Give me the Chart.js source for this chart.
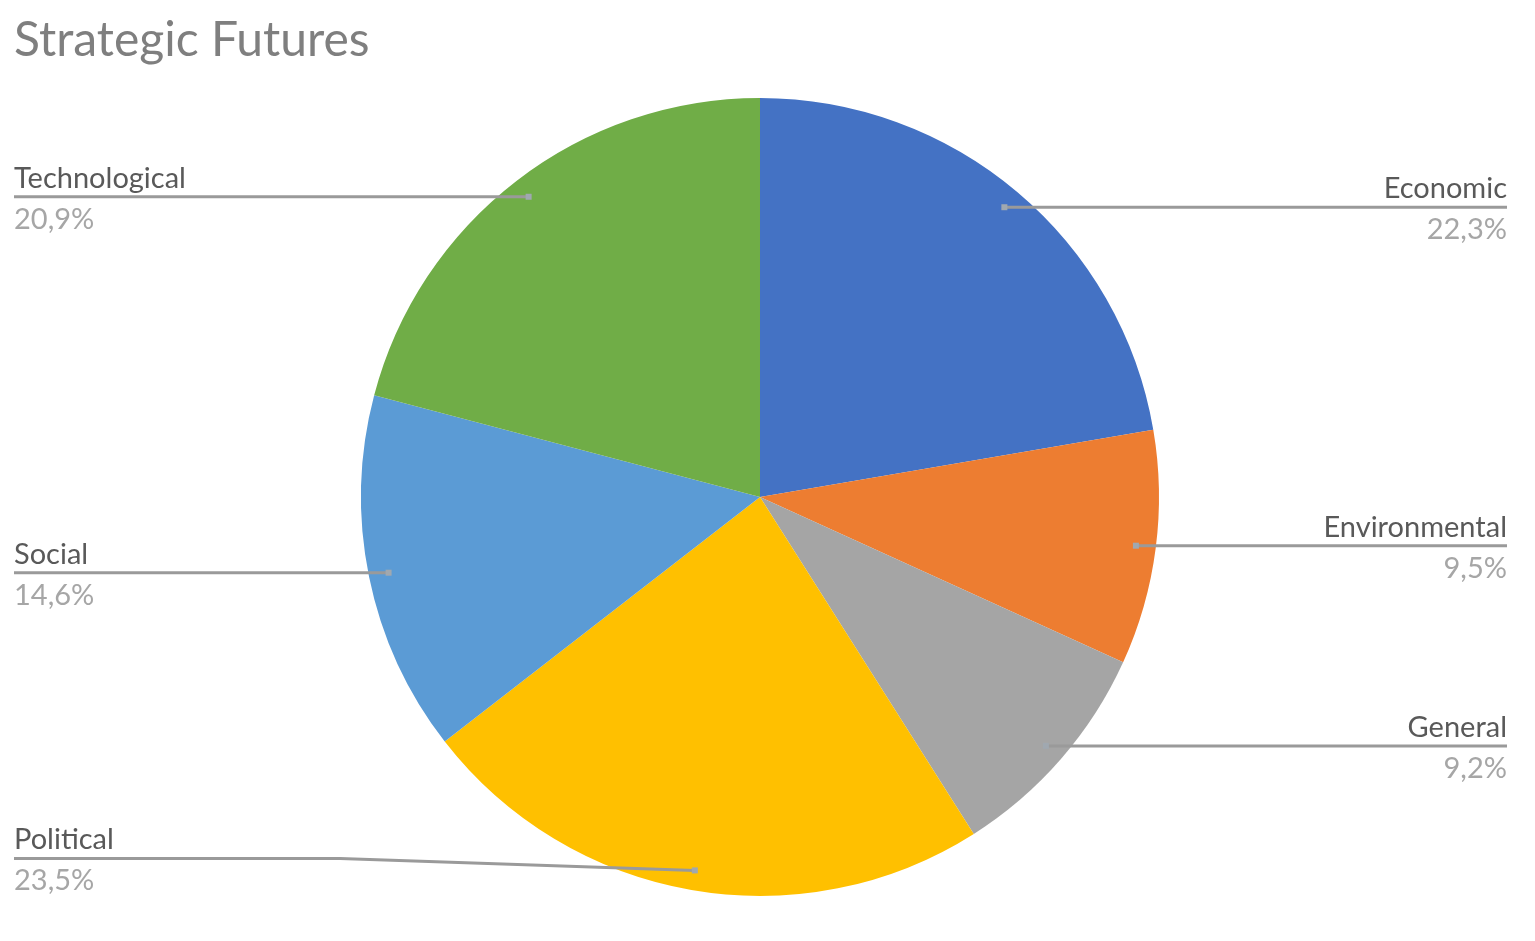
<!DOCTYPE html>
<html>
<head>
<meta charset="utf-8">
<script src="https://cdn.jsdelivr.net/npm/chart.js@4.4.1/dist/chart.umd.min.js"></script>
<style>
  html, body { margin: 0; padding: 0; background: #ffffff; }
  #wrap { width: 1535px; height: 941px; }
</style>
</head>
<body>
<div id="wrap"><canvas id="grafico_pizza"></canvas></div>
<script>
const categorias = ['Economic', 'Environmental', 'General', 'Political', 'Social', 'Technological']
const percentuais = [22.3, 9.5, 9.2, 23.5, 14.6, 20.9]
const cores = ['#4472C4', '#ED7D31', '#A5A5A5', '#FFC000', '#5B9BD5', '#70AD47']

const fonte = 'Lato, "Open Sans", sans-serif'

// desenha os rotulos com linhas de chamada, no estilo do Excel
const rotulosPlugin = {
    id: 'rotulos',
    afterDatasetsDraw(chart, args, opts) {
        const ctx = chart.ctx
        const meta = chart.getDatasetMeta(0)
        const esq = opts.left
        const dir = chart.width - opts.right
        ctx.save()
        meta.data.forEach((arc, i) => {
            const p = arc.getProps(['x', 'y', 'startAngle', 'endAngle', 'outerRadius'], true)
            const meio = (p.startAngle + p.endAngle) / 2
            const ax = p.x + Math.cos(meio) * p.outerRadius * 0.95
            const ay = p.y + Math.sin(meio) * p.outerRadius * 0.95
            const direita = Math.cos(meio) >= 0
            const desloc = opts.shift[categorias[i]] || 0
            const ly = ay + desloc
            const bordaX = direita ? dir : esq

            ctx.strokeStyle = '#9a9a9a'
            ctx.lineWidth = 3
            ctx.beginPath()
            ctx.moveTo(ax, ay)
            if (desloc !== 0) {
                const dobra = direita ? p.x + 300 : opts.bend
                ctx.lineTo(dobra, ly)
            }
            ctx.lineTo(bordaX, ly)
            ctx.stroke()

            ctx.fillStyle = '#a0a8b0'
            ctx.fillRect(ax - 3, ay - 3, 6, 6)

            ctx.textAlign = direita ? 'right' : 'left'
            ctx.font = '29px ' + fonte
            ctx.fillStyle = '#595959'
            ctx.textBaseline = 'alphabetic'
            ctx.fillText(categorias[i], bordaX, ly - 9)
            ctx.fillStyle = '#a6a6a6'
            ctx.textBaseline = 'top'
            const txt = percentuais[i].toFixed(1).replace('.', ',') + '%'
            ctx.fillText(txt, bordaX, ly + 8)
        })
        ctx.restore()
    }
}

const ctx_pizza = document.getElementById('grafico_pizza').getContext('2d')

let grafico_pizza = new Chart(ctx_pizza, {
    type: 'pie',
    data: {
        labels: categorias,
        datasets: [{
            data: percentuais,
            backgroundColor: cores,
            borderWidth: 0
        }]
    },
    options: {
        responsive: true,
        maintainAspectRatio: false,
        animation: false,
        layout: {
            padding: { top: 0, bottom: 45, left: 14, right: 29 }
        },
        plugins: {
            legend: { display: false },
            tooltip: { enabled: false },
            title: {
                display: true,
                text: 'Strategic Futures',
                align: 'start',
                color: '#7f7f7f',
                font: { family: fonte, size: 48, weight: 'normal', lineHeight: 1 },
                padding: { top: 17, bottom: 33 }
            },
            rotulos: {
                left: 14,
                right: 28,
                bend: 340,
                shift: { Political: -12 }
            }
        }
    },
    plugins: [rotulosPlugin]
});
</script>
</body>
</html>
